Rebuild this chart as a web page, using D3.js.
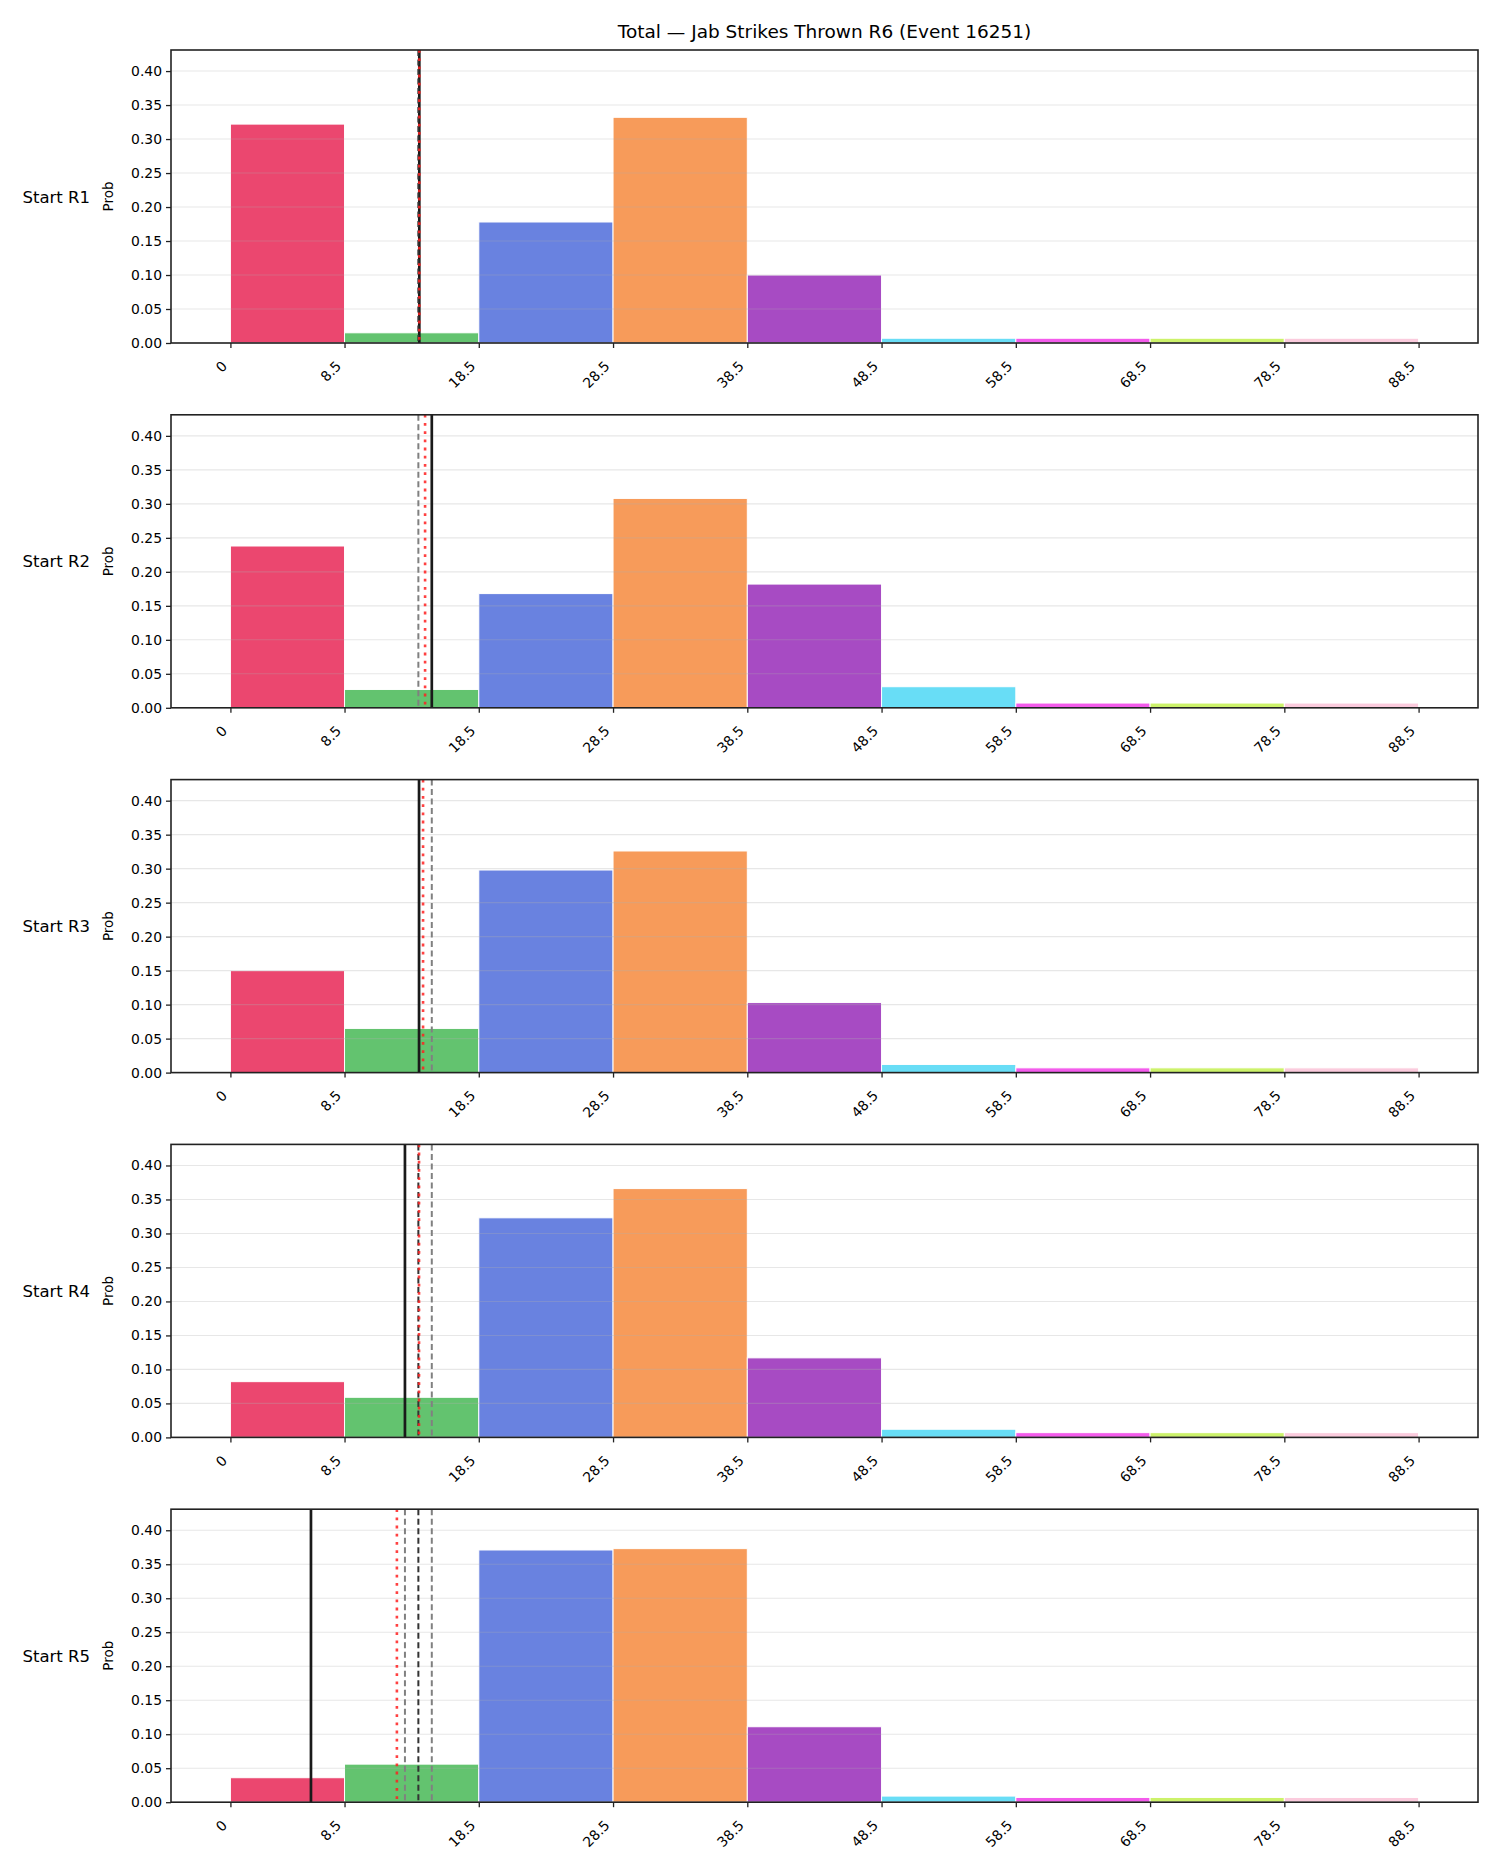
<!DOCTYPE html>
<html>
<head>
<meta charset="utf-8">
<script src="https://cdn.jsdelivr.net/npm/d3@7"></script>
<style>
  body { margin: 0; background: #fff; }
  svg text { font-family: "DejaVu Sans", sans-serif; fill: #000; }
</style>
</head>
<body>
<svg width="1500" height="1875"></svg>
<script>
// bin edges for the total (x axis), one bar per bin
const binEdges = [0, 8.5, 18.5, 28.5, 38.5, 48.5, 58.5, 68.5, 78.5, 88.5];
const tickLabels = ["0", "8.5", "18.5", "28.5", "38.5", "48.5", "58.5", "68.5", "78.5", "88.5"];
const yTicks = [0, 0.05, 0.10, 0.15, 0.20, 0.25, 0.30, 0.35, 0.40];
const rowLabels = ["Start R1", "Start R2", "Start R3", "Start R4", "Start R5"];
const barColors = ["#e6194b", "#3cb44b", "#4363d8", "#f58231", "#911eb4",
                   "#42d4f4", "#f032e6", "#bfef45", "#fabed4"];

// probabilities per bin
const probR1 = [0.322, 0.015, 0.178, 0.332, 0.100, 0.007, 0.007, 0.007, 0.007];
const probR2 = [0.238, 0.027, 0.168, 0.308, 0.182, 0.031, 0.007, 0.007, 0.007];
const probR3 = [0.150, 0.065, 0.298, 0.326, 0.103, 0.012, 0.007, 0.007, 0.007];
const probR4 = [0.082, 0.059, 0.323, 0.366, 0.117, 0.012, 0.007, 0.007, 0.007];
const probR5 = [0.036, 0.056, 0.371, 0.373, 0.111, 0.009, 0.007, 0.007, 0.007];
const probs = [probR1, probR2, probR3, probR4, probR5];

// vertical reference lines per row
const solidLine = [14.07, 15.0, 14.05, 13.0, 6.0];
const meanLine = [14.07, 14.5, 14.35, 14.05, 12.4];
const darkDashed = [[14], [], [], [14], [14]];
const grayDashed = [[], [14], [15], [15], [13, 15]];

const svg = d3.select("svg");
const left = 171, right = 1478, top0 = 50, panelH = 293, step = 364.8;

const x = d3.scaleLinear().domain([-4.425, 92.925]).range([left, right]);

svg.append("text")
  .attr("x", (left + right) / 2).attr("y", 38)
  .attr("text-anchor", "middle").style("font-size", "18.5px")
  .text("Total \u2014 Jab Strikes Thrown R6 (Event 16251)");

probs.forEach(function(vals, r) {
  const top = top0 + r * step;
  const bottom = top + panelH;
  const y = d3.scaleLinear().domain([0, 0.431]).range([bottom, top]);
  const g = svg.append("g");

  // bars
  g.selectAll("rect.bar").data(vals).enter().append("rect")
    .attr("class", "bar")
    .attr("x", (d, i) => x(binEdges[i]))
    .attr("width", (d, i) => x(binEdges[i + 1]) - x(binEdges[i]))
    .attr("y", d => y(d))
    .attr("height", d => y(0) - y(d))
    .attr("fill", (d, i) => barColors[i])
    .attr("fill-opacity", 0.8)
    .attr("stroke", "#fff").attr("stroke-width", 1);

  // grid
  g.selectAll("line.grid").data(yTicks).enter().append("line")
    .attr("x1", left).attr("x2", right)
    .attr("y1", d => y(d)).attr("y2", d => y(d))
    .attr("stroke", "#b0b0b0").attr("stroke-opacity", 0.3).attr("stroke-width", 1.1);

  // reference lines
  grayDashed[r].forEach(function(v) {
    g.append("line").attr("x1", x(v)).attr("x2", x(v)).attr("y1", top).attr("y2", bottom)
      .attr("stroke", "#808080").attr("stroke-width", 2).attr("stroke-dasharray", "6,3.5");
  });
  g.append("line").attr("x1", x(solidLine[r])).attr("x2", x(solidLine[r]))
    .attr("y1", top).attr("y2", bottom)
    .attr("stroke", "#1a1a1a").attr("stroke-width", 2.7);
  darkDashed[r].forEach(function(v) {
    g.append("line").attr("x1", x(v)).attr("x2", x(v)).attr("y1", top).attr("y2", bottom)
      .attr("stroke", "#333").attr("stroke-width", 2).attr("stroke-dasharray", "6,3.5");
  });
  g.append("line").attr("x1", x(meanLine[r])).attr("x2", x(meanLine[r]))
    .attr("y1", top).attr("y2", bottom)
    .attr("stroke", "#ff2020").attr("stroke-opacity", 0.85)
    .attr("stroke-width", 2.6).attr("stroke-dasharray", "2.8,5.4");

  // y axis
  const yAxis = g.append("g").attr("transform", "translate(" + left + ",0)")
    .call(d3.axisLeft(y).tickValues(yTicks).tickFormat(d3.format(".2f")).tickSize(5).tickPadding(4));
  yAxis.select(".domain").remove();
  yAxis.selectAll("line").attr("stroke", "#222").attr("stroke-width", 1.3);
  yAxis.selectAll("text").style("font-size", "13.9px").style("font-family", "DejaVu Sans");

  // x axis
  const xAxis = g.append("g").attr("transform", "translate(0," + bottom + ")")
    .call(d3.axisBottom(x).tickValues(binEdges).tickFormat((d, i) => tickLabels[i]).tickSize(5));
  xAxis.select(".domain").remove();
  xAxis.selectAll("line").attr("stroke", "#222").attr("stroke-width", 1.3);
  xAxis.selectAll("text")
    .style("font-size", "13.9px").style("font-family", "DejaVu Sans")
    .attr("text-anchor", "end")
    .attr("dy", null)
    .attr("y", 0)
    .attr("transform", "translate(-3,24) rotate(-45)");

  // frame
  g.append("rect").attr("x", left).attr("y", top)
    .attr("width", right - left).attr("height", panelH)
    .attr("fill", "none").attr("stroke", "#222").attr("stroke-width", 1.6);

  // labels
  g.append("text")
    .attr("transform", "translate(113," + (top + panelH / 2) + ") rotate(-90)")
    .attr("text-anchor", "middle").style("font-size", "13.5px").text("Prob");
  g.append("text")
    .attr("x", 90).attr("y", top + panelH / 2 + 6)
    .attr("text-anchor", "end").style("font-size", "16.5px").text(rowLabels[r]);
});
</script>
</body>
</html>
